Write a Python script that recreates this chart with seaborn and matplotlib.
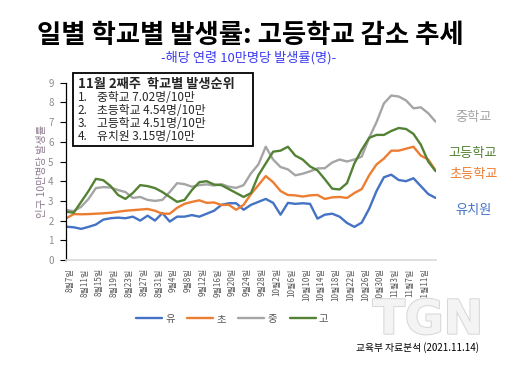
import matplotlib
matplotlib.use("Agg")
import matplotlib.pyplot as plt
import matplotlib.patches as mpatches
import matplotlib.patheffects as pe
import pandas as pd
import seaborn as sns

# 2일 간격으로 읽은 값 (2021-08-06 ~ 2021-11-14)
dates = pd.date_range("2021-08-06", "2021-11-14", freq="2D")

kinder = [1.69, 1.66, 1.58, 1.68, 1.8, 2.05, 2.12, 2.15, 2.12, 2.2,
          2.0, 2.25, 2.0, 2.38, 1.95, 2.2, 2.2, 2.28, 2.2, 2.35,
          2.5, 2.8, 2.88, 2.88, 2.55, 2.8, 2.95, 3.1, 2.9, 2.3,
          2.9, 2.85, 2.88, 2.85, 2.1, 2.3, 2.35, 2.2, 1.88, 1.68,
          1.9, 2.6, 3.5, 4.2, 4.33, 4.06, 4.0, 4.15, 3.75, 3.35, 3.15]
elementary = [2.12, 2.33, 2.32, 2.33, 2.35, 2.37, 2.4, 2.45, 2.5, 2.53,
              2.56, 2.59, 2.5, 2.35, 2.35, 2.65, 2.85, 2.95, 3.03, 2.9,
              2.92, 2.79, 2.8, 2.55, 2.8, 3.35, 3.8, 4.26, 3.95, 3.5,
              3.3, 3.28, 3.22, 3.28, 3.3, 3.1, 3.18, 3.2, 3.15, 3.4,
              3.6, 4.3, 4.85, 5.15, 5.55, 5.55, 5.65, 5.75, 5.3, 5.1, 4.54]
middle = [2.54, 2.48, 2.7, 3.1, 3.65, 3.7, 3.68, 3.55, 3.45, 3.15,
          3.2, 3.05, 3.0, 3.05, 3.45, 3.9, 3.85, 3.72, 3.8, 3.84,
          3.78, 3.85, 3.72, 3.66, 3.8, 4.4, 4.85, 5.75, 5.1, 4.72,
          4.6, 4.3, 4.38, 4.5, 4.65, 4.66, 4.95, 5.1, 5.0, 5.1,
          5.25, 6.2, 7.0, 7.95, 8.35, 8.3, 8.1, 7.7, 7.75, 7.45, 7.02]
high = [2.45, 2.4, 2.95, 3.5, 4.12, 4.05, 3.75, 3.3, 3.1, 3.4,
        3.8, 3.75, 3.65, 3.45, 3.2, 2.95, 3.05, 3.55, 3.95, 4.0,
        3.83, 3.8, 3.6, 3.4, 3.2, 3.4, 4.3, 4.9, 5.5, 5.55,
        5.75, 5.3, 5.1, 4.75, 4.55, 4.1, 3.62, 3.58, 3.9, 4.9,
        5.6, 6.2, 6.35, 6.35, 6.55, 6.7, 6.65, 6.4, 5.85, 5.0, 4.51]

schools = ["유", "초", "중", "고"]
colors = ["#4472C4", "#ED7D31", "#A5A5A5", "#548235"]
side_labels = ["유치원", "초등학교", "중학교", "고등학교"]

tick_dates = pd.date_range("2021-08-07", "2021-11-11", freq="4D")
tick_labels = ["8월7일", "8월11일", "8월15일", "8월19일", "8월23일", "8월27일",
               "8월31일", "9월4일", "9월8일", "9월12일", "9월16일", "9월20일",
               "9월24일", "9월28일", "10월2일", "10월6일", "10월10일",
               "10월14일", "10월18일", "10월22일", "10월26일", "10월30일",
               "11월3일", "11월7일", "11월11일"]

rank_lines = ["중학교 7.02명/10만", "초등학교 4.54명/10만",
              "고등학교 4.51명/10만", "유치원 3.15명/10만"]

df = pd.DataFrame({"date": dates, "유": kinder, "초": elementary,
                   "중": middle, "고": high})
df = df.melt(id_vars="date", var_name="school", value_name="rate")

sns.set_theme(style="white")
plt.rcParams["font.family"] = ["Noto Sans CJK KR", "DejaVu Sans"]

fig = plt.figure(figsize=(5.12, 3.65), dpi=100)
ax = fig.add_axes([0.129, 0.2877, 0.7227, 0.4857])

sns.lineplot(data=df, x="date", y="rate", hue="school", hue_order=schools,
             palette=dict(zip(schools, colors)), linewidth=1.7, ax=ax)

ax.set_ylim(0, 9)
ax.set_yticks(range(10))
ax.set_xlim(pd.Timestamp("2021-08-05 22:00"), pd.Timestamp("2021-11-14 03:00"))
ax.set_xticks(tick_dates)
ax.set_xticklabels(tick_labels, rotation=90, fontsize=5.8, color="#595959")
ax.tick_params(axis="x", length=0, pad=6)
ax.tick_params(axis="y", length=4, width=0.8, color="black", direction="out",
               labelsize=7, labelcolor="#8c8c8c", pad=5, left=True)
ax.set_xlabel("")
ax.set_ylabel("인구 10만명당 발생률", fontsize=7.5, color="#8e7b8e", labelpad=1)
for side in ["top", "right"]:
    ax.spines[side].set_visible(False)
ax.spines["left"].set_color("black")
ax.spines["left"].set_linewidth(0.9)
ax.spines["bottom"].set_color("#d9d9d9")
ax.spines["bottom"].set_linewidth(1.2)

sns.move_legend(ax, "center", bbox_to_anchor=(0.449, -0.333), ncol=4,
                title=None, frameon=False, fontsize=7.5, handlelength=2.5,
                columnspacing=1.2, handletextpad=0.3)
for t in ax.get_legend().get_texts():
    t.set_color("#595959")

# 제목
fig.text(0.488, 0.904, "일별 학교별 발생률: 고등학교 감소 추세", ha="center",
         va="center", fontsize=19, fontweight="bold", color="black")
fig.text(0.486, 0.841, "-해당 연령 10만명당 발생률(명)-", ha="center",
         va="center", fontsize=9.5, color="#3b3bf0")

# 순위 박스
box = mpatches.Rectangle((0.1426, 0.6), 0.3516, 0.2, transform=fig.transFigure,
                         facecolor="white", edgecolor="black", linewidth=1.3,
                         zorder=5)
fig.add_artist(box)
fig.text(0.152, 0.771, "11월 2째주  학교별 발생순위", ha="left", va="center",
         fontsize=9.5, fontweight="bold", zorder=6)
for i, line in enumerate(rank_lines):
    y = 0.732 - i * 0.0355
    fig.text(0.152, y, f"{i + 1}.", ha="left", va="center", fontsize=8.5, zorder=6)
    fig.text(0.19, y, line, ha="left", va="center", fontsize=8.5, zorder=6)

# 오른쪽 라벨
side_pos = {"유치원": 0.422, "초등학교": 0.521, "중학교": 0.677, "고등학교": 0.580}
for name, col in zip(side_labels, colors):
    fig.text(0.924, side_pos[name], name, ha="center", va="center",
             fontsize=9.5, color=col)

# 워터마크 / 출처
fig.text(0.836, 0.12, "TGN", ha="center", va="center", fontsize=34,
         fontweight="bold", color="#f4f4f4", family="DejaVu Sans",
         path_effects=[pe.withStroke(linewidth=1.5, foreground="#d8d8d8")])
fig.text(0.815, 0.047, "교육부 자료분석 (2021.11.14)", ha="center", va="center",
         fontsize=7, color="black")

fig.savefig("out.png", dpi=100)
